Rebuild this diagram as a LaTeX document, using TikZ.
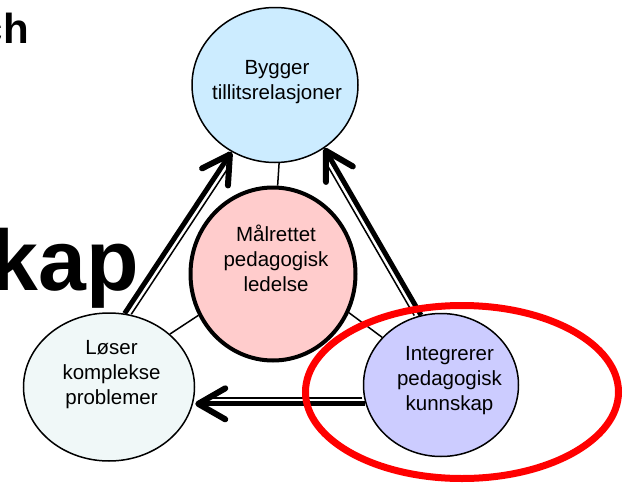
\documentclass[tikz,border=0pt]{standalone}
\usepackage{fontspec}
\setmainfont{Liberation Sans}
\usetikzlibrary{shapes.geometric,arrows.meta,calc}

\definecolor{tillitblue}{RGB}{204,236,255}
\definecolor{ledelsepink}{RGB}{255,204,204}
\definecolor{problemcyan}{RGB}{240,248,248}
\definecolor{kunnskaplilac}{RGB}{204,204,255}

\tikzset{
  circ/.style={ellipse, draw=black, line width=1.5pt, inner sep=0pt},
  circtext/.style={align=center, inner sep=0pt, font=\fontsize{20.5}{25}\selectfont},
  link/.style={line width=1.5pt},
  pushline/.style={line width=5pt, -{Straight Barb[length=27pt,width=31pt,line width=6pt,round]}},
  pushthin/.style={line width=1.5pt, shorten <=3pt, shorten >=11pt},
}

\begin{document}
\begin{tikzpicture}[x=1pt,y=-1pt]
    \useasboundingbox (0,0) rectangle (627,490);
    % title fragments behind the diagram
    \node[anchor=base east, inner sep=0pt, font=\fontsize{42}{42}\selectfont\bfseries] (titleA) at (29,43) {ch};
    \node[anchor=base east, inner sep=0pt, font=\fontsize{86}{86}\selectfont\bfseries] (titleB) at (139,290) {kap};
    % circles
    \node[circ, fill=tillitblue, minimum width=166pt, minimum height=155pt] (top) at (275,85) {};
    \node[circ, fill=ledelsepink, line width=4pt, minimum width=165pt, minimum height=173pt] (mid) at (273,274) {};
    \node[circ, fill=problemcyan, minimum width=171pt, minimum height=148pt] (lo) at (109,387) {};
    \node[circ, fill=kunnskaplilac, minimum width=155pt, minimum height=143pt] (rt) at (441,385) {};
    % texts
    \node[circtext] (top-t) at (277,82) {Bygger\\tillitsrelasjoner};
    \node[circtext] (mid-t) at (276,258) {Målrettet\\pedagogisk\\ledelse};
    \node[circtext] (lo-t) at (111.5,374.5) {Løser\\komplekse\\problemer};
    \node[circtext] (rt-t) at (449.5,381) {Integrerer\\pedagogisk\\kunnskap};
    % thin links to the middle
    \draw[link] (top.273) -- (mid.87);
    \draw[link] (mid.209) -- (lo.41);
    \draw[link] (mid.333) -- (rt.141);
    % double arrows round the triangle
    \draw[pushline] (lo.78) -- (top.237);
    \draw[pushthin] ($(lo.78)!6pt!-90:(top.237)$) -- ($(top.237)!6pt!90:(lo.78)$);
    \draw[pushline] (rt.106) -- (top.308);
    \draw[pushthin] ($(rt.106)!6pt!90:(top.308)$) -- ($(top.308)!6pt!-90:(rt.106)$);
    \draw[pushline] (rt.194) -- (rt.194 -| lo.east);
    \draw[pushthin] ($(rt.194)!6pt!-90:(rt.194 -| lo.east)$) -- ($(rt.194 -| lo.east)!6pt!90:(rt.194)$);
    % red ring
    \node[ellipse, draw=red, line width=7pt, minimum width=313pt, minimum height=173pt] (focus) at (462,392) {};
\end{tikzpicture}
\end{document}
